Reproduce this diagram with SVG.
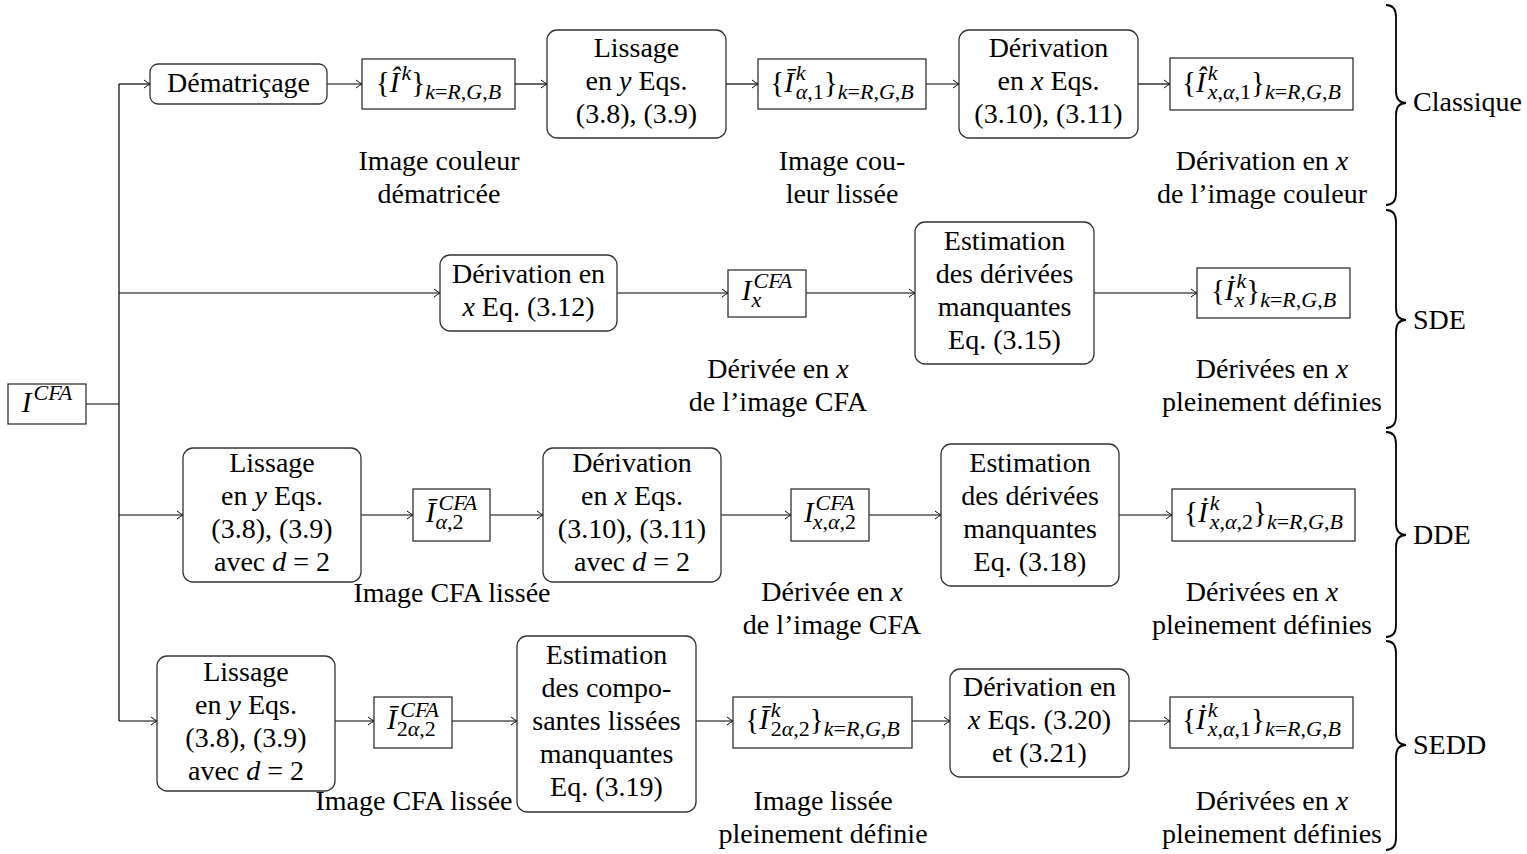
<svg xmlns="http://www.w3.org/2000/svg" width="1527" height="854" viewBox="0 0 1527 854" font-family="'Liberation Serif', 'Times New Roman', serif">
<style>
text{font-family:'Liberation Serif','Times New Roman',serif;font-size:28px;fill:#000}
.c{text-anchor:middle}
.i{font-style:italic}
.m{font-size:29px}
.s{font-size:22px}
.box{fill:#fff;stroke:#333;stroke-width:1.3}
.conn{fill:none;stroke:#000;stroke-width:1.2}
.br{fill:none;stroke:#000;stroke-width:1.8}
</style>
<defs>
<marker id="ar" viewBox="-8 -5 10 10" refX="0" refY="0" markerWidth="10" markerHeight="10" markerUnits="userSpaceOnUse" orient="auto">
<path d="M-6,-4 Q-2,-1 0,0 Q-2,1 -6,4" fill="none" stroke="#000" stroke-width="1"/>
</marker>
</defs>
<rect width="1527" height="854" fill="#fff"/>

<g id="connectors">
<path class="conn" d="M86 404 H119"/>
<path class="conn" d="M119 84 V721"/>
<path class="conn" d="M119 84 H150" marker-end="url(#ar)"/>
<path class="conn" d="M327 84 H362" marker-end="url(#ar)"/>
<path class="conn" d="M515 84 H547" marker-end="url(#ar)"/>
<path class="conn" d="M726 84 H758" marker-end="url(#ar)"/>
<path class="conn" d="M926 84 H959" marker-end="url(#ar)"/>
<path class="conn" d="M1138 84 H1170" marker-end="url(#ar)"/>
<path class="conn" d="M119 293 H440" marker-end="url(#ar)"/>
<path class="conn" d="M617 293 H728" marker-end="url(#ar)"/>
<path class="conn" d="M806 293 H915" marker-end="url(#ar)"/>
<path class="conn" d="M1094 293 H1197" marker-end="url(#ar)"/>
<path class="conn" d="M119 515 H183" marker-end="url(#ar)"/>
<path class="conn" d="M361 515 H413" marker-end="url(#ar)"/>
<path class="conn" d="M490 515 H543" marker-end="url(#ar)"/>
<path class="conn" d="M721 515 H791" marker-end="url(#ar)"/>
<path class="conn" d="M869 515 H941" marker-end="url(#ar)"/>
<path class="conn" d="M1119 515 H1172" marker-end="url(#ar)"/>
<path class="conn" d="M119 721 H157" marker-end="url(#ar)"/>
<path class="conn" d="M335 721 H374" marker-end="url(#ar)"/>
<path class="conn" d="M452 721 H517" marker-end="url(#ar)"/>
<path class="conn" d="M696 721 H733" marker-end="url(#ar)"/>
<path class="conn" d="M912 721 H950" marker-end="url(#ar)"/>
<path class="conn" d="M1129 721 H1170" marker-end="url(#ar)"/>
</g>

<g id="n-icfa">
<rect class="box" x="8" y="384" width="78" height="40"/>
<text x="47" y="412" class="c m"><tspan class="i">I</tspan><tspan class="s i" dx="2" dy="-12">CFA</tspan></text>
</g>

<!-- Row 1 -->
<g id="n-dematricage">
<rect class="box" x="150" y="64" width="177" height="40" rx="8"/>
<text x="238.5" y="92" class="c">Dématriçage</text>
</g>
<g id="n-ihat">
<rect class="box" x="362" y="59" width="153" height="50"/>
<text x="438.5" y="92" class="c m">{<tspan class="i">Î</tspan><tspan class="s i" dx="2" dy="-12">k</tspan><tspan dy="12">}</tspan><tspan class="s" dy="7"><tspan class="i">k</tspan>=<tspan class="i">R</tspan>,<tspan class="i">G</tspan>,<tspan class="i">B</tspan></tspan></text>
</g>
<g id="n-lissage1">
<rect class="box" x="547" y="30" width="179" height="108" rx="10"/>
<text x="636.5" y="57" class="c">Lissage</text>
<text x="636.5" y="90" class="c">en <tspan class="i">y</tspan> Eqs.</text>
<text x="636.5" y="123" class="c">(3.8), (3.9)</text>
</g>
<g id="n-ibar1">
<rect class="box" x="758" y="59" width="168" height="50"/>
<text x="842" y="92" class="c m">{<tspan class="i">Ī</tspan><tspan class="s i" dx="2" dy="-12">k</tspan><tspan class="s" dx="-9.8" dy="19"><tspan class="i">α</tspan>,1</tspan><tspan dy="-7">}</tspan><tspan class="s" dy="7"><tspan class="i">k</tspan>=<tspan class="i">R</tspan>,<tspan class="i">G</tspan>,<tspan class="i">B</tspan></tspan></text>
</g>
<g id="n-derivation1">
<rect class="box" x="959" y="30" width="179" height="108" rx="10"/>
<text x="1048.5" y="57" class="c">Dérivation</text>
<text x="1048.5" y="90" class="c">en <tspan class="i">x</tspan> Eqs.</text>
<text x="1048.5" y="123" class="c">(3.10), (3.11)</text>
</g>
<g id="n-ihatx">
<rect class="box" x="1170" y="58" width="183" height="52"/>
<text x="1261.5" y="92" class="c m">{<tspan class="i">Î</tspan><tspan class="s i" dx="2" dy="-12">k</tspan><tspan class="s" dx="-9.8" dy="19"><tspan class="i">x</tspan>,<tspan class="i">α</tspan>,1</tspan><tspan dy="-7">}</tspan><tspan class="s" dy="7"><tspan class="i">k</tspan>=<tspan class="i">R</tspan>,<tspan class="i">G</tspan>,<tspan class="i">B</tspan></tspan></text>
</g>

<!-- Row 2 -->
<g id="n-derivation2">
<rect class="box" x="440" y="255" width="177" height="76" rx="10"/>
<text x="528.5" y="282.5" class="c">Dérivation en</text>
<text x="528.5" y="315.5" class="c"><tspan class="i">x</tspan> Eq. (3.12)</text>
</g>
<g id="n-ixcfa">
<rect class="box" x="728" y="270" width="78" height="47"/>
<text x="767" y="300" class="c m"><tspan class="i">I</tspan><tspan class="s i" dy="7">x</tspan><tspan class="s i" dx="-7.8" dy="-19">CFA</tspan></text>
</g>
<g id="n-estimation2">
<rect class="box" x="915" y="222" width="179" height="142" rx="10"/>
<text x="1004.5" y="249.5" class="c">Estimation</text>
<text x="1004.5" y="282.5" class="c">des dérivées</text>
<text x="1004.5" y="315.5" class="c">manquantes</text>
<text x="1004.5" y="348.5" class="c">Eq. (3.15)</text>
</g>
<g id="n-idotx">
<rect class="box" x="1197" y="268" width="153" height="50"/>
<text x="1273.5" y="300" class="c m">{<tspan class="i">İ</tspan><tspan class="s i" dy="7">x</tspan><tspan class="s i" dx="-7.8" dy="-19">k</tspan><tspan dy="12">}</tspan><tspan class="s" dy="7"><tspan class="i">k</tspan>=<tspan class="i">R</tspan>,<tspan class="i">G</tspan>,<tspan class="i">B</tspan></tspan></text>
</g>

<!-- Row 3 -->
<g id="n-lissage3">
<rect class="box" x="183" y="448" width="178" height="134" rx="10"/>
<text x="272" y="471.5" class="c">Lissage</text>
<text x="272" y="504.5" class="c">en <tspan class="i">y</tspan> Eqs.</text>
<text x="272" y="537.5" class="c">(3.8), (3.9)</text>
<text x="272" y="570.5" class="c">avec <tspan class="i">d</tspan> = 2</text>
</g>
<g id="n-ibarcfa3">
<rect class="box" x="413" y="489" width="77" height="52"/>
<text x="451.5" y="522" class="c m"><tspan class="i">Ī</tspan><tspan class="s" dy="7"><tspan class="i">α</tspan>,2</tspan><tspan class="s i" dx="-25" dy="-19">CFA</tspan></text>
</g>
<g id="n-derivation3">
<rect class="box" x="543" y="448" width="178" height="134" rx="10"/>
<text x="632" y="471.5" class="c">Dérivation</text>
<text x="632" y="504.5" class="c">en <tspan class="i">x</tspan> Eqs.</text>
<text x="632" y="537.5" class="c">(3.10), (3.11)</text>
<text x="632" y="570.5" class="c">avec <tspan class="i">d</tspan> = 2</text>
</g>
<g id="n-ixcfa3">
<rect class="box" x="791" y="489" width="78" height="52"/>
<text x="830" y="522" class="c m"><tspan class="i">I</tspan><tspan class="s i" dx="2" dy="-12">CFA</tspan><tspan class="s" dx="-41.6" dy="19"><tspan class="i">x</tspan>,<tspan class="i">α</tspan>,2</tspan></text>
</g>
<g id="n-estimation3">
<rect class="box" x="941" y="444" width="178" height="142" rx="10"/>
<text x="1030" y="471.5" class="c">Estimation</text>
<text x="1030" y="504.5" class="c">des dérivées</text>
<text x="1030" y="537.5" class="c">manquantes</text>
<text x="1030" y="570.5" class="c">Eq. (3.18)</text>
</g>
<g id="n-idot3">
<rect class="box" x="1172" y="489" width="183" height="52"/>
<text x="1263.5" y="522" class="c m">{<tspan class="i">İ</tspan><tspan class="s i" dx="2" dy="-12">k</tspan><tspan class="s" dx="-9.8" dy="19"><tspan class="i">x</tspan>,<tspan class="i">α</tspan>,2</tspan><tspan dy="-7">}</tspan><tspan class="s" dy="7"><tspan class="i">k</tspan>=<tspan class="i">R</tspan>,<tspan class="i">G</tspan>,<tspan class="i">B</tspan></tspan></text>
</g>

<!-- Row 4 -->
<g id="n-lissage4">
<rect class="box" x="157" y="656" width="178" height="135" rx="10"/>
<text x="246" y="681" class="c">Lissage</text>
<text x="246" y="714" class="c">en <tspan class="i">y</tspan> Eqs.</text>
<text x="246" y="747" class="c">(3.8), (3.9)</text>
<text x="246" y="780" class="c">avec <tspan class="i">d</tspan> = 2</text>
</g>
<g id="n-ibarcfa4">
<rect class="box" x="374" y="697" width="78" height="51"/>
<text x="413" y="729" class="c m"><tspan class="i">Ī</tspan><tspan class="s" dy="7">2<tspan class="i">α</tspan>,2</tspan><tspan class="s i" dx="-35.6" dy="-19">CFA</tspan></text>
</g>
<g id="n-estimation4">
<rect class="box" x="517" y="636" width="179" height="176" rx="10"/>
<text x="606.5" y="664" class="c">Estimation</text>
<text x="606.5" y="697" class="c">des compo-</text>
<text x="606.5" y="730" class="c">santes lissées</text>
<text x="606.5" y="763" class="c">manquantes</text>
<text x="606.5" y="796" class="c">Eq. (3.19)</text>
</g>
<g id="n-ibar4">
<rect class="box" x="733" y="697" width="179" height="51"/>
<text x="822.5" y="729" class="c m">{<tspan class="i">Ī</tspan><tspan class="s i" dx="2" dy="-12">k</tspan><tspan class="s" dx="-9.8" dy="19">2<tspan class="i">α</tspan>,2</tspan><tspan dy="-7">}</tspan><tspan class="s" dy="7"><tspan class="i">k</tspan>=<tspan class="i">R</tspan>,<tspan class="i">G</tspan>,<tspan class="i">B</tspan></tspan></text>
</g>
<g id="n-derivation4">
<rect class="box" x="950" y="669" width="179" height="108" rx="10"/>
<text x="1039.5" y="696" class="c">Dérivation en</text>
<text x="1039.5" y="729" class="c"><tspan class="i">x</tspan> Eqs. (3.20)</text>
<text x="1039.5" y="762" class="c">et (3.21)</text>
</g>
<g id="n-idot4">
<rect class="box" x="1170" y="697" width="183" height="51"/>
<text x="1261.5" y="729" class="c m">{<tspan class="i">İ</tspan><tspan class="s i" dx="2" dy="-12">k</tspan><tspan class="s" dx="-9.8" dy="19"><tspan class="i">x</tspan>,<tspan class="i">α</tspan>,1</tspan><tspan dy="-7">}</tspan><tspan class="s" dy="7"><tspan class="i">k</tspan>=<tspan class="i">R</tspan>,<tspan class="i">G</tspan>,<tspan class="i">B</tspan></tspan></text>
</g>

<g id="captions">
<text x="439" y="170" class="c">Image couleur</text>
<text x="439" y="203" class="c">dématricée</text>
<text x="842" y="170" class="c">Image cou-</text>
<text x="842" y="203" class="c">leur lissée</text>
<text x="1262" y="170" class="c">Dérivation en <tspan class="i">x</tspan></text>
<text x="1262" y="203" class="c">de l’image couleur</text>
<text x="778" y="378" class="c">Dérivée en <tspan class="i">x</tspan></text>
<text x="778" y="411" class="c">de l’image CFA</text>
<text x="1272" y="378" class="c">Dérivées en <tspan class="i">x</tspan></text>
<text x="1272" y="411" class="c">pleinement définies</text>
<text x="452" y="602" class="c">Image CFA lissée</text>
<text x="832" y="601" class="c">Dérivée en <tspan class="i">x</tspan></text>
<text x="832" y="634" class="c">de l’image CFA</text>
<text x="1262" y="601" class="c">Dérivées en <tspan class="i">x</tspan></text>
<text x="1262" y="634" class="c">pleinement définies</text>
<text x="414" y="810" class="c">Image CFA lissée</text>
<text x="823" y="810" class="c">Image lissée</text>
<text x="823" y="843" class="c">pleinement définie</text>
<text x="1272" y="810" class="c">Dérivées en <tspan class="i">x</tspan></text>
<text x="1272" y="843" class="c">pleinement définies</text>
</g>

<g id="braces">
<path class="br" d="M1386 5 Q1396 5 1396 17 V91 Q1396 103 1406 103 Q1396 103 1396 115 V193 Q1396 205 1386 205"/>
<path class="br" d="M1386 210 Q1396 210 1396 222 V308 Q1396 320 1406 320 Q1396 320 1396 332 V416 Q1396 428 1386 428"/>
<path class="br" d="M1386 432 Q1396 432 1396 444 V523 Q1396 535 1406 535 Q1396 535 1396 547 V625 Q1396 637 1386 637"/>
<path class="br" d="M1386 641 Q1396 641 1396 653 V733 Q1396 745 1406 745 Q1396 745 1396 757 V838 Q1396 850 1386 850"/>
<text x="1413" y="111">Classique</text>
<text x="1413" y="329">SDE</text>
<text x="1413" y="544">DDE</text>
<text x="1413" y="754">SEDD</text>
</g>
</svg>
